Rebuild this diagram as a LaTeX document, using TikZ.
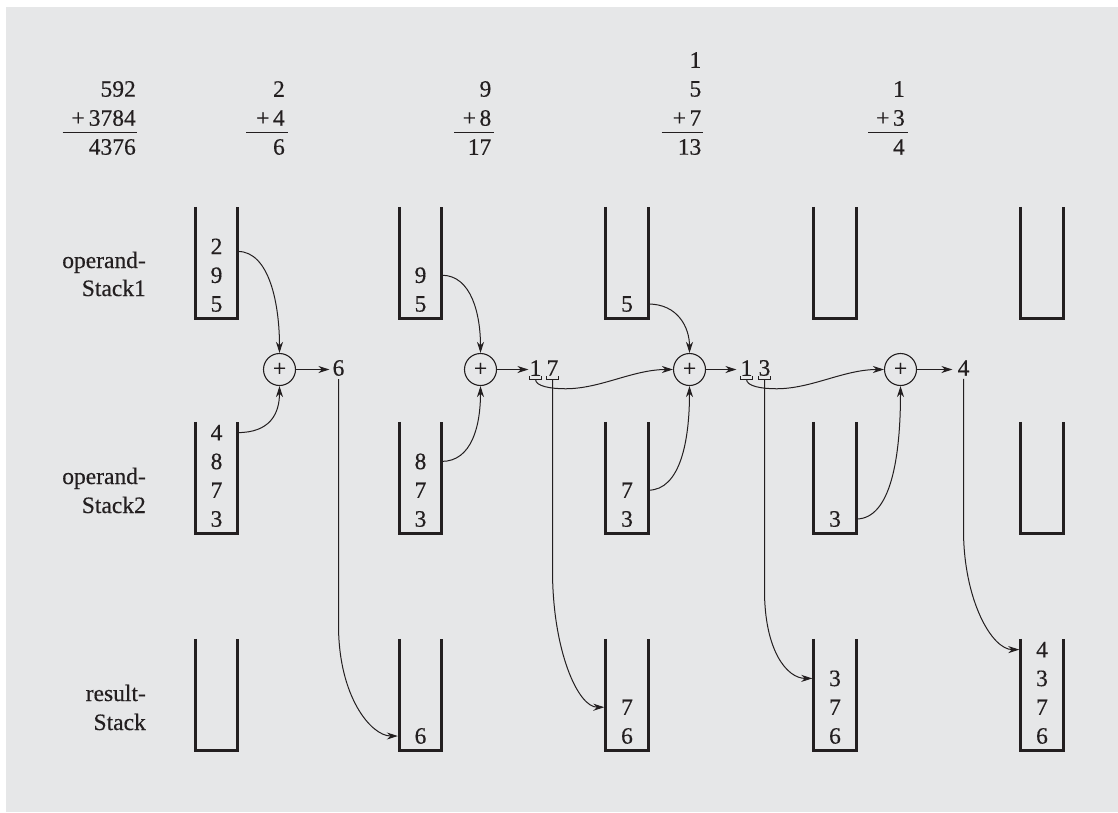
\documentclass[tikz,border=0pt]{standalone}
\usepackage{fontspec}
\setmainfont{Liberation Serif}[FakeBold=0.4]
\usetikzlibrary{arrows.meta,calc}
\definecolor{ink}{RGB}{35,31,32}
\definecolor{bg}{RGB}{230,231,232}
\begin{document}
\begin{tikzpicture}[x=1pt,y=-1pt,
  every node/.style={font=\fontsize{23.5}{28}\selectfont, text=ink, inner sep=0pt},
  wall/.style={draw=ink, line width=2.7pt, line join=miter},
  stk/.style={minimum width=42pt, minimum height=111pt, inner sep=0pt},
  thinline/.style={draw=ink, line width=1pt},
  conn/.style={thinline, -{Stealth[length=11pt,width=7pt,inset=3.5pt]}},
  sumnode/.style={circle, draw=ink, line width=1.1pt, minimum size=32pt, inner sep=0pt},
  lab/.style={anchor=base east},
  rnum/.style={anchor=east}]
\useasboundingbox (0,0) rectangle (1118,812);
\fill[white] (0,0) rectangle (1118,812);
\fill[bg] (6,7) rectangle (1118,812);

% ---------- top arithmetic ----------
\node[rnum] (a1x) at (136,89) {592};
\node[rnum] (a1y) at (136,118) {+\kern4pt3784};
\node[rnum] (a1z) at (136,147) {4376};
\draw[thinline] (62.5,132.5) -- (136.5,132.5);

\node[rnum] (a2x) at (285,89) {2};
\node[rnum] (a2y) at (285,118) {+\kern3.5pt4};
\node[rnum] (a2z) at (285,147) {6};
\draw[thinline] (246,132.5) -- (288,132.5);

\node[rnum] (a3x) at (491.5,89) {9};
\node[rnum] (a3y) at (491.5,118) {+\kern3.5pt8};
\node[rnum] (a3z) at (491.5,147) {17};
\draw[thinline] (454,132.5) -- (493.5,132.5);

\node[rnum] (a4w) at (701.5,60) {1};
\node[rnum] (a4x) at (701.5,89) {5};
\node[rnum] (a4y) at (701.5,118) {+\kern3.5pt7};
\node[rnum] (a4z) at (701.5,147) {13};
\draw[thinline] (661.5,132.5) -- (703,132.5);

\node[rnum] (a5x) at (905,89) {1};
\node[rnum] (a5y) at (905,118) {+\kern3.5pt3};
\node[rnum] (a5z) at (905,147) {4};
\draw[thinline] (868,132.5) -- (907.5,132.5);

% ---------- row labels ----------
\node[lab] (l1a) at (146,268) {operand-};
\node[lab] (l1b) at (146,296) {Stack1};
\node[lab] (l2a) at (146,484) {operand-};
\node[lab] (l2b) at (146,513) {Stack2};
\node[lab] (l3a) at (146,701) {result-};
\node[lab] (l3b) at (146,730) {Stack};

% ---------- stacks ----------
\foreach \c/\x in {1/216.5,2/420.5,3/627,4/835,5/1042}{
  \node[stk] (S1\c) at (\x,262.5) {};
  \node[stk] (S2\c) at (\x,477.5) {};
  \node[stk] (S3\c) at (\x,694.5) {};
}
\foreach \s in {S11,S12,S13,S14,S15,S21,S22,S23,S24,S25,S31,S32,S33,S34,S35}{
  \draw[wall] (\s.north west) -- (\s.south west) -- (\s.south east) -- (\s.north east);
}

% operand stack 1
\node (d111) at (216.5,304) {5};
\node (d112) at (216.5,275.2) {9};
\node (d113) at (216.5,246.4) {2};
\node (d121) at (420.5,304) {5};
\node (d122) at (420.5,275.2) {9};
\node (d131) at (627,304) {5};
% operand stack 2
\node (d211) at (216.5,519) {3};
\node (d212) at (216.5,490.2) {7};
\node (d213) at (216.5,461.4) {8};
\node (d214) at (216.5,432.6) {4};
\node (d221) at (420.5,519) {3};
\node (d222) at (420.5,490.2) {7};
\node (d223) at (420.5,461.4) {8};
\node (d231) at (627,519) {3};
\node (d232) at (627,490.2) {7};
\node (d241) at (835,519) {3};
% result stack
\node (d321) at (420.5,736) {6};
\node (d331) at (627,736) {6};
\node (d332) at (627,707.2) {7};
\node (d341) at (835,736) {6};
\node (d342) at (835,707.2) {7};
\node (d343) at (835,678.4) {3};
\node (d351) at (1042,736) {6};
\node (d352) at (1042,707.2) {7};
\node (d353) at (1042,678.4) {3};
\node (d354) at (1042,649.6) {4};

% ---------- adders ----------
\node[sumnode] (p1) at (279.5,369.5) {+};
\node[sumnode] (p2) at (480.5,369.5) {+};
\node[sumnode] (p3) at (689.5,369.5) {+};
\node[sumnode] (p4) at (900.5,369.5) {+};

% ---------- sums ----------
\node (r1) at (338.5,368) {6};
\node (r2a) at (535.5,368) {1};
\node (r2b) at (552.5,368) {7};
\node (r3a) at (746.5,368) {1};
\node (r3b) at (764.5,368) {3};
\node (r4) at (963.5,368) {4};

% brackets under split digits
\foreach \n in {r2a,r2b,r3a,r3b}{
  \draw[thinline] ($(\n.south)+(-6.2,0)$) -- ++(0,3.3) -- ++(12.4,0) -- ++(0,-3.3);
  \coordinate (b\n) at ($(\n.south)+(0,3.3)$);
}

% ---------- operands into adders ----------
\draw[conn] ($(S11.east |- d113)+(0,5)$) .. controls +(32,0) and +(0,-48) .. (p1.north);
\draw[conn] (S12.east |- d122) .. controls +(30,0) and +(0,-38) .. (p2.north);
\draw[conn] (S13.east |- d131) .. controls +(30,0) and +(0,-25) .. (p3.north);

\draw[conn] (S21.east |- d214) .. controls +(32,0) and +(0,28) .. (p1.south);
\draw[conn] (S22.east |- d223) .. controls +(30,0) and +(0,40) .. (p2.south);
\draw[conn] (S23.east |- d232) .. controls +(32,0) and +(0,55) .. (p3.south);
\draw[conn] (S24.east |- d241) .. controls +(35,0) and +(0,70) .. (p4.south);

% ---------- adders to sums ----------
\draw[conn, shorten >=3pt] (p1.east) -- (p1.east -| r1.west);
\draw[conn, shorten >=1pt] (p2.east) -- (p2.east -| r2a.west);
\draw[conn, shorten >=4pt] (p3.east) -- (p3.east -| r3a.west);
\draw[conn, shorten >=5pt] (p4.east) -- (p4.east -| r4.west);

% ---------- carries into next adder ----------
\draw[conn] (br2a) .. controls +(0,7) and +(-15,0) .. ++(30,9.5)
  .. controls +(35,0) and +(-40,0) .. (p3.west);
\draw[conn] (br3a) .. controls +(0,7) and +(-15,0) .. ++(30,9.5)
  .. controls +(35,0) and +(-40,0) .. (p4.west);

% ---------- digits into result stack ----------
\draw[conn, shorten <=3pt, shorten >=1.5pt] (r1.south) -- ++(0,249) .. controls +(0,72) and +(-28,0) .. (S32.west |- d321);
\draw[conn, shorten >=1.5pt] (br2b) -- ++(0,191) .. controls +(0,80) and +(-28,0) .. (S33.west |- d332);
\draw[conn, shorten >=1.5pt] (br3b) -- ++(0,211) .. controls +(0,60) and +(-27,0) .. (S34.west |- d343);
\draw[conn, shorten <=3pt, shorten >=1.5pt] (r4.south) -- ++(0,154) .. controls +(0,70) and +(-29,0) .. (S35.west |- d354);
\end{tikzpicture}
\end{document}
